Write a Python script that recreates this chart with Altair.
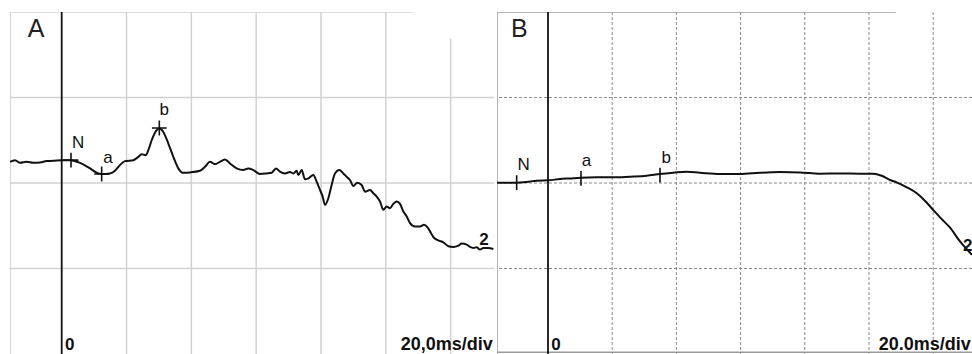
import altair as alt
import pandas as pd

# ---------------- data (time in ms, amplitude in grid divisions) ----------------
a_time = [-15.95, -14.41, -12.86, -10.81, -8.75, -6.69, -4.64, -2.58, 0.0, 2.56, 5.65, 8.73,
          10.79, 12.33, 14.90, 16.44, 17.98, 19.53, 22.10, 23.64, 24.67, 25.90, 26.73, 27.76,
          28.78, 30.12, 31.35, 32.90, 34.44, 35.98, 37.32, 39.58, 42.66, 44.21, 45.75, 47.29,
          48.83, 50.38, 51.92, 53.97, 56.03, 57.57, 59.12, 61.17, 63.23, 64.77, 66.11, 67.34,
          68.89, 70.43, 71.46, 72.49, 73.00, 74.03, 75.06, 76.09, 77.63, 78.66, 79.69, 80.51,
          81.23, 82.26, 83.28, 84.31, 85.65, 86.88, 87.91, 88.94, 89.97, 91.20, 92.54, 93.57,
          95.11, 96.14, 97.17, 98.20, 99.23, 100.26, 101.29, 102.32, 103.35, 104.38, 105.41,
          106.43, 107.46, 109.01, 110.55, 111.78, 112.81, 113.64, 114.66, 116.20, 117.75,
          119.29, 120.83, 122.37, 123.40, 124.94, 125.97, 127.00, 128.03, 129.06, 130.09,
          131.63, 133.17]
a_amp = [0.248, 0.267, 0.236, 0.248, 0.236, 0.240, 0.256, 0.260, 0.267, 0.267, 0.236, 0.171,
         0.120, 0.105, 0.112, 0.143, 0.209, 0.256, 0.267, 0.306, 0.337, 0.326, 0.384, 0.500,
         0.589, 0.636, 0.597, 0.461, 0.306, 0.171, 0.120, 0.124, 0.143, 0.190, 0.248, 0.221,
         0.248, 0.275, 0.229, 0.171, 0.151, 0.171, 0.151, 0.105, 0.112, 0.120, 0.171, 0.132,
         0.112, 0.128, 0.112, 0.143, 0.093, 0.151, 0.043, 0.054, 0.093, 0.016, -0.081, -0.159,
         -0.256, -0.178, -0.023, 0.112, 0.151, 0.112, 0.074, 0.035, -0.035, 0.004, -0.023,
         -0.101, -0.081, -0.120, -0.159, -0.217, -0.314, -0.275, -0.295, -0.244, -0.217,
         -0.244, -0.333, -0.391, -0.469, -0.508, -0.508, -0.488, -0.516, -0.566, -0.632,
         -0.671, -0.694, -0.740, -0.748, -0.733, -0.709, -0.721, -0.748, -0.760, -0.752,
         -0.779, -0.760, -0.760, -0.771]

b_time = [-15.9, -12.88, -9.76, -6.65, -3.53, 0.10, 3.74, 6.85, 10.28, 15.16, 20.35, 25.54,
          30.74, 34.89, 39.04, 43.20, 47.35, 53.58, 59.81, 66.04, 72.27, 78.50, 84.73, 90.96,
          97.19, 101.35, 103.94, 106.54, 108.6, 111.8, 114.9, 117.5, 119.9, 122.6, 125.2,
          128.3, 132.1]
b_amp = [0.004, 0.004, 0.004, 0.012, 0.027, 0.031, 0.047, 0.054, 0.062, 0.066, 0.066, 0.074,
         0.085, 0.105, 0.120, 0.132, 0.120, 0.105, 0.105, 0.120, 0.128, 0.124, 0.109, 0.112,
         0.109, 0.109, 0.085, 0.035, 0.008, -0.05, -0.12, -0.21, -0.31, -0.42, -0.52,
         -0.68, -0.84]

# peak markers
a_mark_time = [2.87, 12.33, 30.12]
a_mark_amp = [0.267, 0.105, 0.643]
b_mark_time = [-9.76, 10.28, 34.89]
b_mark_amp = [0.004, 0.054, 0.093]

# labels
peak_names = ["N", "a", "b"]
a_label_time = [5.1, 14.3, 31.6]
a_label_amp = [0.415, 0.236, 0.79]
b_label_time = [-7.6, 12.0, 36.8]
b_label_amp = [0.15, 0.198, 0.236]

# grid
grid_ms = [20, 40, 60, 80, 100, 120]
a_grid_top = [2, 2, 2, 2, 2, 1.69]
grid_div = [-1, 0, 1]
top_line_end = 108.4
b_bottom_line = -1.98

A_XDOM = [-15.95, 133.37]
B_XDOM = [-15.89, 132.1]
YDOM = [-2, 2]
H = 342
FONT = "Liberation Sans"


def panel(letter, t, v, mt, mv, lt, lv, xdom, width, scan, scale_text, two_pos):
    xs = alt.Scale(domain=xdom, nice=False, zero=False)
    ys = alt.Scale(domain=YDOM, nice=False, zero=False)

    def X(f):
        return alt.X(f, type="quantitative", scale=xs, axis=None)

    def Y(f):
        return alt.Y(f, type="quantitative", scale=ys, axis=None)

    if scan:
        gcol, gw, gdash = "#8a8a8a", 1, [3, 2]
    else:
        gcol, gw, gdash = "#d2d2d2", 1.5, [1, 0]

    vg = pd.DataFrame({"t": grid_ms, "top": a_grid_top if not scan else [2] * len(grid_ms),
                       "bot": [-2] * len(grid_ms)})
    hg = pd.DataFrame({"v": grid_div})
    edges = pd.DataFrame({"t": [xdom[0]], "t2": [top_line_end], "v": [2], "bot": [-2]})

    layers = []
    layers.append(alt.Chart(vg).mark_rule(color=gcol, strokeWidth=gw, strokeDash=gdash, clip=True)
                  .encode(x=X("t"), y=Y("top"), y2="bot"))
    layers.append(alt.Chart(hg).mark_rule(color=gcol, strokeWidth=gw, strokeDash=gdash, clip=True)
                  .encode(y=Y("v")))
    # top border (partial) and left border
    layers.append(alt.Chart(edges).mark_rule(color="#9a9a9a" if scan else "#d2d2d2",
                                             strokeWidth=1.5, clip=True)
                  .encode(x=X("t"), x2="t2", y=Y("v")))
    layers.append(alt.Chart(edges).mark_rule(color="#9a9a9a" if scan else "#c8c8c8",
                                             strokeWidth=1.5, clip=True)
                  .encode(x=X("t"), y=Y("v"), y2="bot"))
    if scan:
        layers.append(alt.Chart(pd.DataFrame({"v": [b_bottom_line]}))
                      .mark_rule(color="#9a9a9a", strokeWidth=1.5, clip=True)
                      .encode(y=Y("v")))
    # zero time axis
    layers.append(alt.Chart(pd.DataFrame({"t": [0]})).mark_rule(color="#111", strokeWidth=1.8, clip=True)
                  .encode(x=X("t")))
    # trace
    tr = pd.DataFrame({"t": t, "v": v})
    layers.append(alt.Chart(tr).mark_line(color="#111", strokeWidth=2, clip=True,
                                          interpolate="monotone")
                  .encode(x=X("t"), y=Y("v")))
    # markers
    mk = pd.DataFrame({"t": mt, "v": mv})
    shape = "M 0 -1 L 0 1" if scan else "M -1 0 L 1 0 M 0 -1 L 0 1"
    layers.append(alt.Chart(mk).mark_point(shape=shape, size=220, filled=False, color="#111",
                                           strokeWidth=1.6, opacity=1, clip=True)
                  .encode(x=X("t"), y=Y("v")))
    # peak labels
    lb = pd.DataFrame({"t": lt, "v": lv, "s": peak_names})
    layers.append(alt.Chart(lb).mark_text(font=FONT, fontSize=17, color="#111", align="center",
                                          baseline="alphabetic", clip=True)
                  .encode(x=X("t"), y=Y("v"), text="s:N"))
    # panel letter
    lt_df = pd.DataFrame({"t": [-7.9 if not scan else -8.9], "v": [1.71], "s": [letter]})
    layers.append(alt.Chart(lt_df).mark_text(font=FONT, fontSize=25, color="#222", align="center",
                                             baseline="alphabetic", clip=True)
                  .encode(x=X("t"), y=Y("v"), text="s:N"))
    # bold annotations
    bold_l = pd.DataFrame({"t": [1.0], "v": [-1.95], "s": ["0"]})
    layers.append(alt.Chart(bold_l).mark_text(font=FONT, fontSize=17, fontWeight="bold", color="#111",
                                              align="left", baseline="alphabetic", clip=True)
                  .encode(x=X("t"), y=Y("v"), text="s:N"))
    bold_r = pd.DataFrame({"t": [xdom[1] - 0.4], "v": [-1.95], "s": [scale_text]})
    layers.append(alt.Chart(bold_r).mark_text(font=FONT, fontSize=18, fontWeight="bold", color="#111",
                                              align="right", baseline="alphabetic", clip=True)
                  .encode(x=X("t"), y=Y("v"), text="s:N"))
    two = pd.DataFrame({"t": [two_pos[0]], "v": [two_pos[1]], "s": ["2"]})
    layers.append(alt.Chart(two).mark_text(font=FONT, fontSize=17, fontWeight="bold", color="#111",
                                           align="center", baseline="alphabetic", clip=True)
                  .encode(x=X("t"), y=Y("v"), text="s:N"))

    return alt.layer(*layers).properties(width=width, height=H)


pa = panel("A", a_time, a_amp, a_mark_time, a_mark_amp, a_label_time, a_label_amp,
           A_XDOM, 484, False, "20,0ms/div", (130.3, -0.72))
pb = panel("B", b_time, b_amp, b_mark_time, b_mark_amp, b_label_time, b_label_amp,
           B_XDOM, 475, True, "20.0ms/div", (130.8, -0.80))

chart = alt.hconcat(pa, pb, spacing=3).properties(
    padding={"left": 10, "top": 12, "right": 0, "bottom": 0},
    background="white",
).configure_view(stroke=None)

chart.save("out.html", embed_options={"renderer": "svg", "actions": False})
